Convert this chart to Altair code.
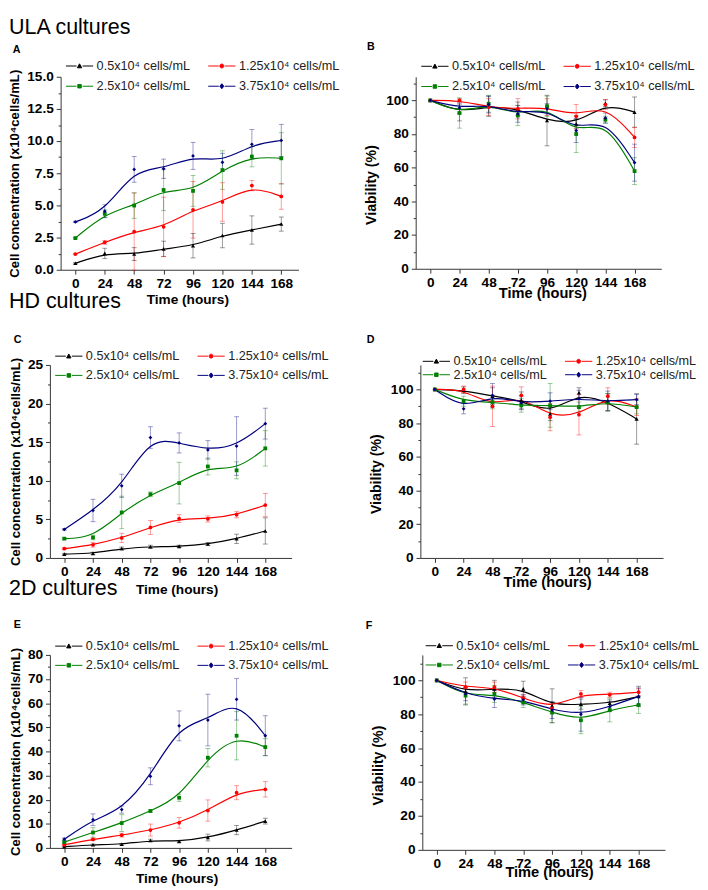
import altair as alt
import pandas as pd

FONT = "Liberation Sans"

times = [0, 24, 48, 72, 96, 120, 144, 168]
series_labels = ["0.5x10⁴ cells/mL", "1.25x10⁴ cells/mL", "2.5x10⁴ cells/mL", "3.75x10⁴ cells/mL"]
series_colors = ["#000000", "#ff0000", "#008000", "#00007f"]
point_shapes = ["triangle-up", "circle", "square", "diamond"]

# ULA cultures
ula_conc_mean = [
    [0.5, 1.27, 1.22, 1.62, 1.87, 2.66, 3.09, 3.55],
    [1.22, 2.13, 2.96, 3.34, 4.66, 5.27, 6.54, 5.7],
    [2.46, 4.35, 4.99, 6.2, 6.13, 7.75, 8.8, 8.66],
    [3.72, 4.55, 7.8, 7.85, 8.85, 8.35, 9.75, 10.05],
]
ula_conc_err = [
    [0.05, 0.4, 0.5, 0.6, 0.95, 0.95, 1.1, 0.55],
    [0.05, 0.15, 3.0, 2.3, 2.2, 1.5, 0.4, 1.0],
    [0.05, 0.3, 1.0, 1.6, 1.2, 1.5, 0.8, 2.0],
    [0.05, 0.5, 1.0, 0.75, 1.05, 0.7, 1.15, 1.25],
]
ula_via_mean = [
    [100, 92.8, 96.5, 95, 88, 86, 98.3, 93],
    [100, 100, 96, 95, 96, 90.5, 97.5, 78],
    [100, 92.5, 98, 91, 96.5, 80, 88.5, 58],
    [100, 95.5, 97.5, 92, 95, 82, 89.5, 63],
]
ula_via_err = [
    [0, 5, 6, 4, 15, 3, 2, 9],
    [0, 1, 5, 6, 5, 7, 3, 6],
    [0, 9, 5, 6, 6, 11, 2, 8],
    [0, 3, 5, 5, 3, 7, 3, 11],
]

# HD cultures
hd_conc_mean = [
    [0.5, 0.59, 1.22, 1.45, 1.5, 1.8, 2.48, 3.5],
    [1.2, 1.7, 2.6, 3.95, 5.1, 5.05, 5.6, 6.85],
    [2.5, 2.65, 5.9, 8.25, 9.7, 11.85, 11.35, 14.2],
    [3.7, 6.15, 9.35, 15.6, 14.9, 14.0, 14.5, 17.4],
]
hd_conc_err = [
    [0.1, 0.15, 0.2, 0.2, 0.15, 0.2, 0.6, 1.7],
    [0.1, 0.3, 0.6, 0.9, 0.5, 0.4, 0.4, 1.5],
    [0.1, 0.3, 2.1, 0.3, 2.7, 1.1, 1.1, 2.3],
    [0.1, 1.45, 1.5, 1.4, 1.3, 1.2, 3.8, 2.0],
]
hd_via_mean = [
    [100, 99.5, 96, 93.5, 85.5, 98, 92.5, 82.5],
    [100, 100, 90, 96.5, 83.5, 85, 96, 89.5],
    [100, 93, 92.5, 90.5, 90.5, 89.5, 92.5, 89.5],
    [100, 88.5, 96.5, 92, 93, 94.5, 93, 94],
]
hd_via_err = [
    [0, 2, 5, 5, 4, 3, 5, 15],
    [0, 2, 12, 5, 8, 12, 5, 5],
    [0, 3, 4, 4, 13, 3, 5, 4],
    [0, 3, 7, 4, 5, 5, 6, 3],
]

# 2D cultures
d2_conc_mean = [
    [0.5, 1.3, 1.5, 3.1, 2.7, 4.3, 7.4, 11.1],
    [1.3, 3.5, 5.3, 7.4, 10.4, 15.5, 22.9, 24.3],
    [2.4, 6.4, 10.3, 15.3, 20.8, 37.4, 46.5, 41.8],
    [3.6, 11.7, 15.9, 29.7, 50.6, 53.0, 61.6, 46.5],
]
d2_conc_err = [
    [0.1, 0.3, 0.3, 0.5, 0.3, 1.4, 1.9, 1.2],
    [0.2, 0.5, 0.8, 2.5, 2.2, 4.4, 2.9, 3.2],
    [0.3, 2.0, 3.5, 0.5, 1.5, 3.8, 10.0, 3.5],
    [0.5, 2.4, 1.5, 3.5, 6.2, 10.7, 8.6, 8.3],
]
d2_via_mean = [
    [100, 93.5, 95, 95, 85, 86, 86.5, 90.5],
    [100, 96, 96, 89.5, 83.5, 92, 91.5, 93],
    [100, 91, 92, 87, 81, 76.5, 82.5, 85.5],
    [100, 92, 89, 88.5, 82.5, 80, 84.5, 90.5],
]
d2_via_err = [
    [0, 8, 5, 4.5, 10, 3, 2, 6],
    [0, 3, 3, 2, 3, 2, 1.5, 2],
    [0, 5, 5, 3, 6, 8, 7, 5],
    [0, 4, 5, 3, 5, 10, 3, 5],
]

# legend symbols: dash - marker - dash
_dash = "M-2.5,0L-0.55,0M0.55,0L2.5,0 "
legend_paths = [
    _dash + "M-0.4,0.33L0,-0.4L0.4,0.33Z",
    _dash + "M-0.36,0A0.36,0.36,0,1,0,0.36,0A0.36,0.36,0,1,0,-0.36,0Z",
    _dash + "M-0.32,-0.32L0.32,-0.32L0.32,0.32L-0.32,0.32Z",
    _dash + "M0,-0.46L0.36,0L0,0.46L-0.36,0Z",
]

IND = dict(color="independent", fill="independent", stroke="independent", shape="independent")


def panel_df(mean, err):
    rows = []
    for s, lab in enumerate(series_labels):
        for i, t in enumerate(times):
            m, e = mean[s][i], err[s][i]
            rows.append(dict(series=lab, order=s, time=t, value=m, err=e, lo=m - e, hi=m + e))
    return pd.DataFrame(rows)


def text_layer(txt, x, y, size, weight):
    return alt.Chart(pd.DataFrame({"t": [txt]})).mark_text(
        align="left", baseline="alphabetic", font=FONT, fontSize=size, fontWeight=weight,
        color="#000000").encode(x=alt.value(x), y=alt.value(y), text="t:N")


def panel(mean, err, xmax, ymax, w, h, ytitle, yfmt, major, minor, ytitle_size, ytitle_pad,
          ytitle_y, xtitle_size, xtitle_y, leg_xy, rowpad, letter, letter_xy, sections=(), shift=0):
    df = panel_df(mean, err)
    xs_kw = dict(domain=[-12, xmax], nice=False, zero=False)
    if shift:
        xs_kw["range"] = [shift, w]
    xs = alt.Scale(**xs_kw)
    ys = alt.Scale(domain=[0, ymax], nice=False, zero=False)
    nminor = int(ymax / minor + 1e-9)
    yvals = [round(k * minor, 4) for k in range(nminor + 1)]
    test = f"abs(datum.value/{major} - round(datum.value/{major})) < 0.001"
    ykw = dict(values=yvals, format=yfmt, labelExpr=f"{test} ? datum.label : ''",
               tickSize={"condition": {"test": test, "value": 4.5}, "value": 2.5},
               title=ytitle, titleFontSize=ytitle_size, titlePadding=ytitle_pad, labelPadding=3)
    if ytitle_y is not None:
        ykw["titleY"] = ytitle_y
    if shift:
        ykw["offset"] = -shift
    yaxis = alt.Axis(**ykw)
    xaxis = alt.Axis(values=times, title="Time (hours)", titleFontSize=xtitle_size, titleX=130 + shift,
                     titleY=xtitle_y, titleBaseline="alphabetic", tickSize=4.5, labelPadding=3,
                     labelAngle=0)
    X = alt.X("time:Q", scale=xs, axis=xaxis)
    col = alt.Color("order:N", scale=alt.Scale(domain=[0, 1, 2, 3], range=series_colors), legend=None)

    base = alt.Chart(df)
    err_rule = base.transform_filter("datum.err > 0").mark_rule(strokeWidth=1, opacity=0.4).encode(
        x=X, y=alt.Y("lo:Q", scale=ys, axis=yaxis), y2="hi:Q", color=col)
    caps = base.transform_filter("datum.err > 0").transform_fold(["lo", "hi"], as_=["k", "cap"]).mark_tick(
        orient="horizontal", size=5, thickness=1, opacity=0.4).encode(
        x=X, y=alt.Y("cap:Q", scale=ys, axis=yaxis), color=col)
    line = base.mark_line(interpolate="basis", strokeWidth=1.2).encode(
        x=X, y=alt.Y("value:Q", scale=ys, axis=yaxis), color=col, detail="series:N")
    layers = [err_rule, caps, line]
    for s, shp in enumerate(point_shapes):
        layers.append(
            base.transform_filter(f"datum.order == {s}").mark_point(
                filled=True, size=18 if s == 0 else 15, opacity=1, shape=shp).encode(
                x=X, y=alt.Y("value:Q", scale=ys, axis=yaxis), color=col))

    cscale = alt.Scale(domain=series_labels, range=series_colors)
    L = alt.Legend(orient="none", legendX=leg_xy[0] + shift, legendY=leg_xy[1], columns=2,
                   direction="horizontal", columnPadding=16, rowPadding=rowpad, labelOffset=11,
                   symbolSize=125, symbolStrokeWidth=1, labelFont=FONT, labelFontSize=13,
                   labelColor="#222222", title=None, padding=0, labelLimit=250)
    leg = base.transform_filter("false").mark_point(filled=True, opacity=1).encode(
        fill=alt.Fill("series:N", scale=cscale, legend=L),
        stroke=alt.Stroke("series:N", scale=cscale, legend=L),
        shape=alt.Shape("series:N", scale=alt.Scale(domain=series_labels, range=legend_paths), legend=L))
    layers.append(leg)
    layers.append(text_layer(letter, letter_xy[0] + shift, letter_xy[1], 11, "bold"))
    for (txt, sx, sy) in sections:
        layers.append(text_layer(txt, sx + shift, sy, 22, "normal"))
    return alt.layer(*layers).properties(width=w, height=h)


CONC = "Cell concentration (x10⁴cells/mL)"
VIA = "Viability (%)"

A = panel(ula_conc_mean, ula_conc_err, 182, 15, 255, 198, CONC, ".1f", 2.5, 1.25, 13.5, 5, None,
          14, 35, (12.9, -17.8), 7, "A", (-49, -24.3),
          [("ULA cultures", -53, -44), ("HD cultures", -53, 237.7)], shift=11)
B = panel(ula_via_mean, ula_via_err, 190, 114, 252, 197, VIA, "d", 20, 10, 14.5, 7, 110.6,
          15, 29, (13.2, -17.5), 7, "B", (-50, -27))
C = panel(hd_conc_mean, hd_conc_err, 190, 25, 248, 198, CONC, "d", 5, 2.5, 13.5, 5, None,
          14, 36, (12.9, -15.8), 6, "C", (-37, -22.3), [("2D cultures", -42, 235.7)])
D = panel(hd_via_mean, hd_via_err, 190, 114.5, 249, 198, VIA, "d", 20, 10, 14.5, 7, 111.5,
          15, 29, (9.9, -10.5), -3, "D", (-55, -23))
E = panel(d2_conc_mean, d2_conc_err, 190, 80, 248, 198, CONC, "d", 10, 5, 13.5, 5, None,
          14, 35, (12.9, -15.8), 6, "E", (-37, -27.3))
F = panel(d2_via_mean, d2_via_err, 190, 115, 249, 200, VIA, "d", 20, 10, 14.5, 7, 113,
          15, 27.5, (10.9, -16.2), 6, "F", (-58, -26.7))

row1 = alt.hconcat(A, B, spacing=24.3).resolve_scale(**IND).resolve_legend(**IND)
row2 = alt.hconcat(C, D, spacing=38.1).resolve_scale(**IND).resolve_legend(**IND)
row3 = alt.hconcat(E, F, spacing=37.1).resolve_scale(**IND).resolve_legend(**IND)

inner = alt.concat(row1, row2, columns=1, align="none", spacing=21.7).resolve_scale(
    **IND).resolve_legend(**IND)
chart = alt.concat(inner, row3, columns=1, align="none", spacing=20.2).resolve_scale(
    **IND).resolve_legend(**IND).properties(
    padding={"left": 0, "top": -3, "right": 0, "bottom": 0}).configure(
    font=FONT).configure_view(stroke=None).configure_axis(
    grid=False, domainColor="#333333", tickColor="#333333", domainWidth=1, tickWidth=1,
    labelFont=FONT, labelFontSize=14, labelFontWeight="bold", labelColor="#000000",
    titleFont=FONT, titleFontWeight="bold", titleColor="#000000", labelOverlap=False
)

chart.save("out.html", embed_options={"renderer": "svg", "actions": False})
